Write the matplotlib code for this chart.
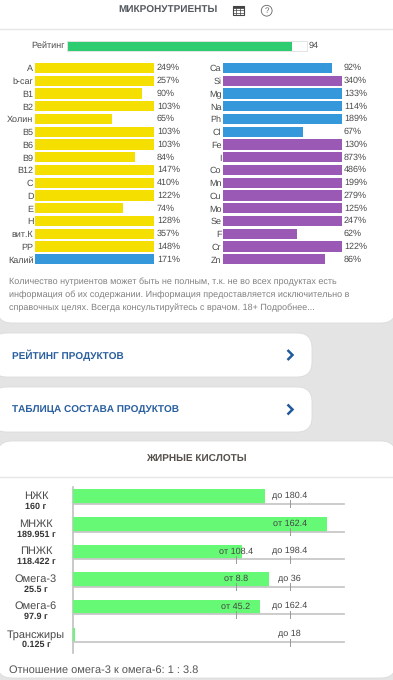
import numpy as np
import matplotlib
matplotlib.use("Agg")
import matplotlib.pyplot as plt
from matplotlib.patches import FancyBboxPatch, Rectangle, Circle

plt.rcParams['font.family'] = ['Liberation Sans', 'DejaVu Sans']
plt.rcParams['text.hinting'] = 'no_hinting'
plt.rcParams['text.hinting_factor'] = 1

# ---- data ----
rating_value = 94
left_names = ["A", "b-car", "B1", "B2", "Холин", "B5", "B6", "B9", "B12", "C", "D", "E", "H", "вит.К", "PP", "Калий"]
left_values = [249, 257, 90, 103, 65, 103, 103, 84, 147, 410, 122, 74, 128, 357, 148, 171]
left_groups = ["v"] * 15 + ["e"]
right_names = ["Ca", "Si", "Mg", "Na", "Ph", "Cl", "Fe", "I", "Co", "Mn", "Cu", "Mo", "Se", "F", "Cr", "Zn"]
right_values = [92, 340, 133, 114, 189, 67, 130, 873, 486, 199, 279, 125, 247, 62, 122, 86]
right_groups = ["e", "t", "e", "e", "e", "e", "t", "t", "t", "t", "t", "t", "t", "t", "t", "t"]
fat_names = ["НЖК", "МНЖК", "ПНЖК", "Омега-3", "Омега-6", "Трансжиры"]
fat_amounts = ["160 г", "189.951 г", "118.422 г", "25.5 г", "97.9 г", "0.125 г"]
fat_values = [160, 189.951, 118.422, 25.5, 97.9, 0.125]
fat_low = [None, 162.4, 108.4, 8.8, 45.2, None]
fat_high = [180.4, None, 198.4, 36, 162.4, 18]

W, H = 393, 680
GROUP_COL = {"v": "#f4df00", "e": "#3498db", "t": "#9b59b6"}
TXT = "#4a4a4a"
LABEL_FS = 6.5
fig = plt.figure(figsize=(W / 100, H / 100), dpi=100, facecolor="#e4e4e4")


def px_axes(x0, y0, x1, y1, **kw):
    ax = fig.add_axes([x0 / W, 1 - y1 / H, (x1 - x0) / W, (y1 - y0) / H], **kw)
    return ax


# page layer in pixel coordinates
bg = px_axes(0, 0, W, H, zorder=0)
bg.set_xlim(0, W); bg.set_ylim(H, 0); bg.axis("off")


def card(x0, y0, x1, y1, r):
    bg.add_patch(FancyBboxPatch((x0 + r, y0 + r), x1 - x0 - 2 * r, y1 - y0 - 2 * r,
                                boxstyle=f"round,pad={r},rounding_size={r}",
                                fc="white", ec="#dcdcdc", lw=0.6, clip_on=True))


card(-3, -30, 396, 323, 15)
card(-8, 333, 312, 377, 15)
card(-8, 387, 312, 432, 15)
card(-3, 441, 396, 678, 15)
bg.plot([0, W], [29, 29], color="#e6e6e6", lw=1)
bg.plot([0, W], [477, 477], color="#e6e6e6", lw=1)

bg.text(168, 10.5, "МИКРОНУТРИЕНТЫ", ha="center", va="center", fontsize=7.1, fontweight="bold", color="#555a60")
bg.text(196, 459, "ЖИРНЫЕ КИСЛОТЫ", ha="center", va="center", fontsize=7.3, fontweight="bold", color="#55504c")

# table icon
bg.add_patch(Rectangle((232.5, 6), 11, 9, fc="none", ec="#444", lw=0.8))
bg.add_patch(Rectangle((232.5, 6), 11, 2, fc="#444", ec="#444", lw=0.5))
for gx in (236.2, 239.8):
    bg.plot([gx, gx], [6, 15], color="#444", lw=0.5)
for gy in (10.3, 12.6):
    bg.plot([232.5, 243.5], [gy, gy], color="#444", lw=0.5)
# help icon
bg.add_patch(Circle((266.7, 10.7), 5.4, fc="none", ec="#666", lw=0.6))
bg.text(266.7, 10.9, "?", ha="center", va="center", fontsize=6, color="#666")

# rating
ra = px_axes(67, 41, 306.5, 51, zorder=2)
ra.set_xlim(0, 100); ra.set_ylim(0, 1)
ra.barh([0.5], [rating_value], height=1, color="#2ecc71")
ra.set_xticks([]); ra.set_yticks([])
for s in ra.spines.values():
    s.set_color("#e4e4e4"); s.set_linewidth(0.7)
bg.text(64.5, 46, "Рейтинг", ha="right", va="center", fontsize=LABEL_FS, color=TXT)
bg.text(309, 46, str(rating_value), ha="left", va="center", fontsize=LABEL_FS, color=TXT)


def nutrient_panel(x0, x1, names, values, groups, val_off):
    ax = px_axes(x0, 61.6, x1, 265.7, zorder=2)
    ax.patch.set_alpha(0)
    rows = np.arange(len(names))
    ax.set_xlim(0, 100); ax.set_ylim(len(names) - 0.5, -0.5)
    ax.barh(rows, np.minimum(values, 100), height=0.8,
            color=[GROUP_COL[g] for g in groups])
    ax.set_xticks([])
    ax.set_yticks(rows, names, fontsize=LABEL_FS, color=TXT)
    ax.tick_params(axis="y", length=0, pad=1.2)
    for s in ax.spines.values():
        s.set_visible(False)
    for r, v in zip(rows, values):
        ax.text(val_off, r, f"{v}%", transform=ax.get_yaxis_transform(),
                ha="left", va="center", fontsize=LABEL_FS, color=TXT)


nutrient_panel(35, 154, left_names, left_values, left_groups, 1.025)
nutrient_panel(223, 342, right_names, right_values, right_groups, 1.017)

note = ["Количество нутриентов может быть не полным, т.к. не во всех продуктах есть",
        "информация об их содержании. Информация предоставляется исключительно в",
        "справочных целях. Всегда консультируйтесь с врачом. 18+ Подробнее..."]
for i, line in enumerate(note):
    bg.text(9, 282 + i * 12.7, line, ha="left", va="center", fontsize=6.6, color="#808080")

for y, label in ((355, "РЕЙТИНГ ПРОДУКТОВ"), (409.5, "ТАБЛИЦА СОСТАВА ПРОДУКТОВ")):
    bg.text(12, y, label, ha="left", va="center", fontsize=7.45, fontweight="bold", color="#2a5f9e")
    bg.plot([287.5, 292.5, 287.5], [y - 5, y, y + 5], color="#1f5a9c", lw=1.8,
            solid_joinstyle="miter", solid_capstyle="butt")

# fatty acids: each track runs on a norm scale where low -> 0.6 and high -> 0.8
LOW_POS, HIGH_POS = 0.6, 0.8


def fat_pos(value, low, high):
    if low is not None and high is not None:
        return float(np.interp(value, [0, low, high], [0, LOW_POS, HIGH_POS]))
    ref = low if low is not None else high
    return value / ref * HIGH_POS


row_tops = [489, 517, 544.5, 572, 599.5, 627.5]
for name, amount, val, low, high, top in zip(fat_names, fat_amounts, fat_values, fat_low, fat_high, row_tops):
    ax = px_axes(73, top, 344, top + 19, zorder=2)
    ax.patch.set_alpha(0)
    ax.axis("off")
    ax.set_xlim(0, 1); ax.set_ylim(19, 0)
    ax.barh([7.4], [fat_pos(val, low, high)], height=14.8, color="#66f975", zorder=1)
    ax.plot([0, 1], [14.9, 14.9], color="#c8c8c8", lw=1.3, zorder=2, clip_on=False)
    both = low is not None and high is not None
    if low is not None:
        lp = LOW_POS if both else HIGH_POS
        ax.plot([lp, lp], [11, 18.5], color="#999999", lw=0.7, zorder=3)
        ax.text(lp, 6.8, f"от {low}", ha="center", va="center", fontsize=6.2, color="#444", zorder=4)
    if high is not None:
        ax.plot([HIGH_POS, HIGH_POS], [11, 18.5], color="#999999", lw=0.7, zorder=3)
        ax.text(HIGH_POS, 6.8, f"до {high}", ha="center", va="center", fontsize=6.2, color="#444", zorder=4)
    bg.text(36, top + 7, name, ha="center", va="center", fontsize=7.6, color=TXT)
    bg.text(36, top + 17.5, amount, ha="center", va="center", fontsize=6.3, fontweight="bold", color="#333")

bg.plot([73, 73], [487, 653], color="#c0c0c0", lw=1.2, zorder=3)
fig.text(9 / W, 1 - 670.5 / H, "Отношение омега-3 к омега-6: 1 : 3.8", ha="left", va="center",
         fontsize=7.95, color="#555")

fig.savefig("out.png", dpi=100, facecolor=fig.get_facecolor())
